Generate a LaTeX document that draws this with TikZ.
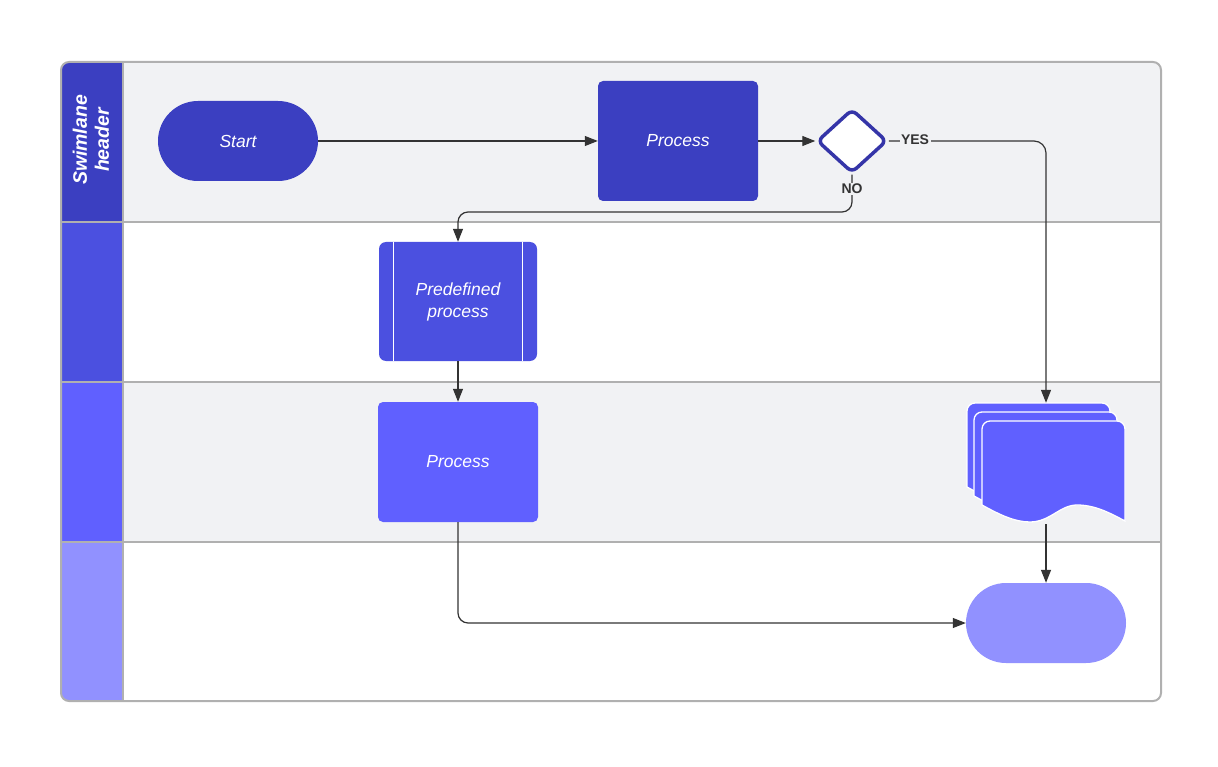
\documentclass[tikz,border=0pt]{standalone}
\usepackage{fontspec}
\setmainfont{Liberation Sans}
\usetikzlibrary{arrows.meta,shapes.geometric}
\definecolor{hdrA}{HTML}{3B3FC1}
\definecolor{hdrB}{HTML}{4B50E0}
\definecolor{hdrC}{HTML}{6060FF}
\definecolor{hdrD}{HTML}{9191FF}
\definecolor{laneGray}{HTML}{F1F2F4}
\definecolor{frameGray}{HTML}{B0B0B0}
\definecolor{lineDark}{HTML}{333333}
\definecolor{diaStroke}{HTML}{3535A8}
\newcommand{\mydocshape}[2]{%
  \filldraw[fill=hdrC, draw=white, line width=1.3pt]
    (#1,#2+84) [rounded corners=8pt] -- (#1,#2) -- (#1+143,#2) [sharp corners] -- (#1+143,#2+100)
    .. controls (#1+128,#2+92) and (#1+113,#2+84) .. (#1+95,#2+84)
    .. controls (#1+78,#2+84) and (#1+68,#2+101) .. (#1+48,#2+101)
    .. controls (#1+33,#2+101) and (#1+18,#2+94) .. (#1,#2+84) -- cycle;}
\begin{document}
\begin{tikzpicture}[x=1pt,y=-1pt,
  boxtxt/.style={text=white, font=\itshape\fontsize{17.5}{22}\selectfont, align=center, inner sep=0pt},
  procbox/.style={boxtxt, rectangle, rounded corners=5pt, minimum width=160pt, minimum height=120pt},
  termbox/.style={boxtxt, rectangle, rounded corners=40pt, minimum width=160pt, minimum height=80pt},
  conn/.style={draw=lineDark, line width=1.2pt, -{Triangle[length=13pt,width=10pt]}},
  lbl/.style={text=lineDark, font=\bfseries\fontsize{14}{16}\selectfont, fill=laneGray, inner sep=1.5pt},
  divline/.style={draw=frameGray, line width=2pt}]
\useasboundingbox (0,0) rectangle (1218,767);
\fill[white] (0,0) rectangle (1218,767);
\begin{scope}
  \clip[rounded corners=8pt] (61,62) rectangle (1161,701);
  \fill[laneGray] (61,62) rectangle (1161,222);
  \fill[white] (61,222) rectangle (1161,382);
  \fill[laneGray] (61,382) rectangle (1161,542);
  \fill[white] (61,542) rectangle (1161,701);
  \fill[hdrA] (61,62) rectangle (123,222);
  \fill[hdrB] (61,222) rectangle (123,382);
  \fill[hdrC] (61,382) rectangle (123,542);
  \fill[hdrD] (61,542) rectangle (123,701);
\end{scope}
\draw[divline] (61,222) -- (1161,222);
\draw[divline] (61,382) -- (1161,382);
\draw[divline] (61,542) -- (1161,542);
\draw[divline] (123,62) -- (123,701);
\draw[divline, rounded corners=8pt] (61,62) rectangle (1161,701);
\node[rotate=90, text=white, font=\bfseries\itshape\fontsize{19.5}{22}\selectfont, align=center] (hdrText) at (91,140) {Swimlane\\header};
% nodes
\node[termbox, fill=hdrA] (start) at (238,141) {Start};
\node[procbox, fill=hdrA] (proc1) at (678,141) {Process};
\node[diamond, draw=diaStroke, fill=white, line width=3.5pt, rounded corners=6pt, minimum width=70pt, minimum height=64pt, inner sep=0pt] (dec) at (852,141) {};
\node[procbox, fill=hdrB, minimum width=158pt, minimum height=119pt, rounded corners=7pt] (pre) at (458,301.5) {Predefined\\process};
\draw[white, line width=1pt] ([xshift=15pt]pre.north west) -- ([xshift=15pt]pre.south west);
\draw[white, line width=1pt] ([xshift=-15pt]pre.north east) -- ([xshift=-15pt]pre.south east);
\node[procbox, fill=hdrC] (proc2) at (458,462) {Process};
\mydocshape{967}{403}
\mydocshape{974}{412}
\mydocshape{982}{421}
\node[minimum width=159pt, minimum height=118pt, inner sep=0pt] (docs) at (1046,462) {};
\node[termbox, fill=hdrD] (endT) at (1046,623) {};
% connectors
\coordinate (yesTurn) at (1046,141);
\coordinate (noTurn) at (852,212);
\draw[conn] (start) -- (proc1);
\draw[conn] (proc1) -- (dec);
\draw[conn, rounded corners=12pt] (dec.east) -- (yesTurn) -- (docs.north);
\node[lbl] (yesLbl) at (915,140) {YES};
\draw[conn, rounded corners=10pt] (dec.south) -- (noTurn) -| (pre.north);
\node[lbl] (noLbl) at (852,189) {NO};
\draw[conn] (pre) -- (proc2);
\draw[conn, rounded corners=10pt] (proc2.south) |- (endT.west);
\draw[conn] ([yshift=-3pt]docs.south) -- (endT.north);
\end{tikzpicture}
\end{document}
